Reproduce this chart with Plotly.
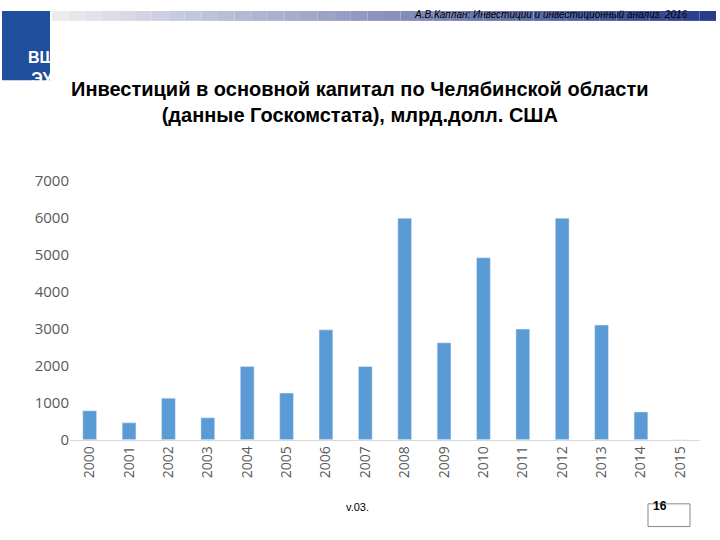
import plotly.graph_objects as go

years = [str(y) for y in range(2000, 2016)]
values = [780, 455, 1120, 590, 1980, 1260, 2970, 1980, 5990, 2620, 4920, 2990, 5990, 3100, 750, 0]
y_ticks = [0, 1000, 2000, 3000, 4000, 5000, 6000, 7000]

def py(p):
    return min(1.0, 1 - ((p - 6) / 0.975) / 540)

fig = go.Figure(go.Bar(x=years, y=values, marker_color="#5b9bd5", width=0.35))

shapes = []
n = 40
x0, x1 = 52/720, 716/720
for i in range(n):
    t = i/(n-1)
    r = int(235 + (40-235)*t); g = int(235 + (60-235)*t); b = int(240 + (140-240)*t)
    shapes.append(dict(type="rect", xref="paper", yref="paper",
                       x0=x0+(x1-x0)*i/n, x1=x0+(x1-x0)*(i+1)/n,
                       y0=py(16), y1=py(2), fillcolor=f"rgb({r},{g},{b})", line_width=0, layer="below"))
shapes.append(dict(type="rect", xref="paper", yref="paper", x0=2/720, x1=50/720, y0=py(76), y1=py(2),
                   fillcolor="#1f4e9c", line_width=0))
shapes.append(dict(type="rect", xref="paper", yref="paper", x0=648/720, x1=690/720, y0=py(528), y1=py(505),
                   fillcolor="white", line=dict(color="#888", width=1)))

fig.update_layout(
    width=720, height=540, margin=dict(l=0, r=0, t=0, b=0),
    paper_bgcolor="white", plot_bgcolor="white", showlegend=False,
    shapes=shapes,
    xaxis=dict(domain=[70/720, 700/720], tickangle=-90, tickfont=dict(family="Open Sans", size=14, color="#595959"),
               showline=True, linecolor="#d9d9d9", ticks=""),
    yaxis=dict(domain=[py(440), py(178)], range=[0, 7000], tickvals=y_ticks, showgrid=False,
               tickfont=dict(family="Open Sans", size=15, color="#595959")),
    annotations=[
        dict(text="<i>А.В.Каплан: Инвестиции и инвестиционный анализ. 2016</i>", xref="paper", yref="paper",
             x=690/720, y=py(10), xanchor="right", yanchor="middle", showarrow=False,
             font=dict(family="Liberation Sans", size=10, color="black")),
        dict(text="<b>Инвестиций в основной капитал по Челябинской области<br>(данные Госкомстата), млрд.долл. США</b>",
             xref="paper", yref="paper", x=0.5, y=py(98), xanchor="center", yanchor="middle", showarrow=False,
             font=dict(family="Liberation Sans", size=20, color="black")),
        dict(text="<b>ВШ<br>ЭУ</b>", xref="paper", yref="paper", x=26/720, y=py(42), showarrow=False,
             font=dict(family="Liberation Sans", size=16, color="white")),
        dict(text="v.03.", xref="paper", yref="paper", x=357/720, y=py(516), showarrow=False,
             font=dict(family="Liberation Sans", size=11, color="black")),
        dict(text="<b>16</b>", xref="paper", yref="paper", x=669/720, y=py(516), showarrow=False,
             font=dict(family="Liberation Sans", size=12, color="black")),
    ],
)
fig.write_html("out.html", config={"displayModeBar": False},
               post_script="document.body.style.margin='0';document.body.style.overflow='hidden';")
